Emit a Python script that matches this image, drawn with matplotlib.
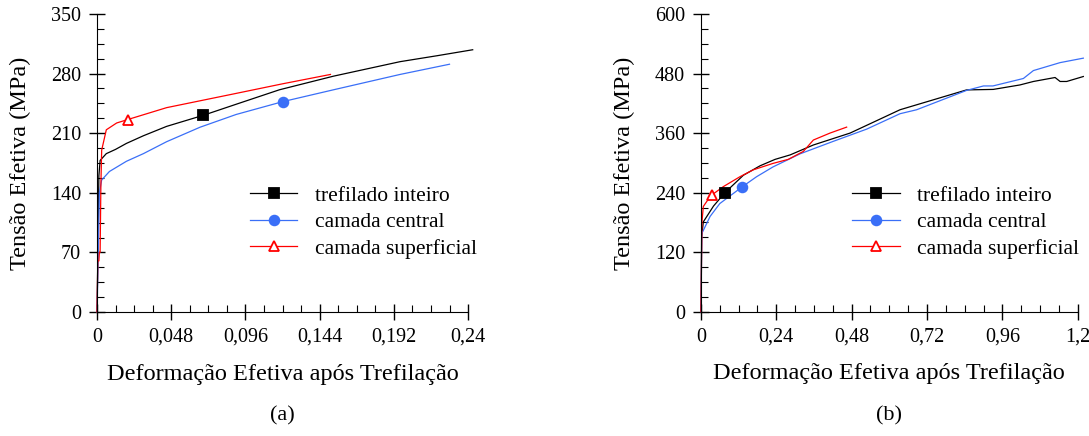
import matplotlib
matplotlib.use('Agg')
import matplotlib.pyplot as plt
from matplotlib.lines import Line2D
from matplotlib.ticker import MultipleLocator, AutoMinorLocator, FuncFormatter

plt.rcParams['font.family'] = 'Liberation Serif'

# (a) curvas ate deformacao 0,24
a_inteiro_x = [0, 0.0008, 0.0012, 0.002, 0.006, 0.012, 0.019, 0.03, 0.045, 0.0687, 0.09, 0.118, 0.153, 0.196, 0.22, 0.243]
a_inteiro_y = [0, 100, 160, 178, 186, 191, 198, 207, 218, 231, 244, 261, 277, 294, 301, 308]
a_central_x = [0, 0.0008, 0.0015, 0.003, 0.008, 0.019, 0.03, 0.045, 0.0666, 0.09, 0.12, 0.153, 0.196, 0.228]
a_central_y = [0, 70, 140, 155, 165, 177, 186, 200, 217, 232, 247, 261, 279, 291]
a_super_x = [0, 0.0005, 0.0012, 0.0015, 0.002, 0.0025, 0.003, 0.006, 0.0127, 0.0198, 0.045, 0.088, 0.12, 0.151]
a_super_y = [0, 60, 60, 70, 70, 150, 190, 214, 222, 226, 240, 256, 268, 279]
a_marks = [(0.0687, 231), (0.12, 247), (0.0198, 226)]

# (b) curvas ate deformacao 1,2
b_inteiro_x = [0, 0.002, 0.0074, 0.04, 0.0765, 0.135, 0.188, 0.236, 0.284, 0.358, 0.475, 0.634, 0.74, 0.846, 0.931, 1.016, 1.059, 1.128, 1.144, 1.165, 1.218]
b_inteiro_y = [0, 150, 181, 213, 240, 275, 294, 307, 316, 336, 360, 407, 427, 447, 448, 457, 464, 472, 464, 464, 474]
b_central_x = [0, 0.002, 0.003, 0.029, 0.06, 0.132, 0.177, 0.23, 0.315, 0.42, 0.528, 0.634, 0.687, 0.74, 0.846, 0.9, 0.93, 1.027, 1.059, 1.144, 1.218]
b_central_y = [0, 120, 158, 192, 218, 252, 272, 292, 318, 343, 368, 399, 407, 420, 446, 455, 455, 470, 486, 502, 511]
b_super_x = [0, 0.002, 0.003, 0.0074, 0.029, 0.034, 0.071, 0.124, 0.167, 0.23, 0.278, 0.326, 0.358, 0.411, 0.464]
b_super_y = [0, 120, 180, 212, 232, 235, 252, 272, 286, 299, 307, 323, 346, 360, 372]
b_marks = [(0.0765, 240), (0.132, 252), (0.034, 235)]

names = ['trefilado inteiro', 'camada central', 'camada superficial']
colors = ['black', '#3a6ff7', 'red']
markers = ['s', 'o', '^']


def virgula(v, pos):
    s = ('%.3f' % v).rstrip('0').rstrip('.')
    return s.replace('.', ',')


def painel(ax, curvas, marks, xmax, xstep, ymax, ystep, letra, leg_x):
    for (x, y), (mx, my), c, m in zip(curvas, marks, colors, markers):
        ax.plot(x, y, color=c, lw=0.9, clip_on=False)
        face = 'white' if m == '^' else c
        ax.plot([mx], [my], m, color=c, mfc=face, ms=7, mew=1.3, clip_on=False, zorder=5)
    ax.set_xlim(0, xmax)
    ax.set_ylim(0, ymax)
    ax.xaxis.set_major_locator(MultipleLocator(xstep))
    ax.yaxis.set_major_locator(MultipleLocator(ystep))
    ax.xaxis.set_minor_locator(AutoMinorLocator(4))
    ax.yaxis.set_minor_locator(AutoMinorLocator(4))
    ax.xaxis.set_major_formatter(FuncFormatter(virgula))
    for s in ['top', 'right']:
        ax.spines[s].set_visible(False)
    ax.tick_params(which='major', direction='inout', length=11, width=1, labelsize=14.5, pad=6)
    ax.tick_params(which='minor', direction='in', length=5, width=0.8)
    ax.set_ylabel('Tensão Efetiva (MPa)', fontsize=17.5, labelpad=14)
    ax.set_xlabel('Deformação Efetiva após Trefilação', fontsize=17.5, labelpad=12)
    handles = [Line2D([], [], color=c, lw=0.9, marker=m, ms=7, mew=1.3,
                      mfc=('white' if m == '^' else c)) for c, m in zip(colors, markers)]
    ax.legend(handles, names, loc='lower right', bbox_to_anchor=(leg_x, 0.113),
              frameon=False, fontsize=15.5, handlelength=2.2, handletextpad=0.8,
              labelspacing=0.3)
    ax.text(0.5, -0.35, letra, transform=ax.transAxes, ha='center', va='center', fontsize=16)


fig = plt.figure(figsize=(10.89, 4.36), dpi=100)
ax1 = fig.add_axes([0.0891, 0.2844, 0.3407, 0.6835])
ax2 = fig.add_axes([0.6437, 0.2851, 0.3459, 0.6828])

painel(ax1, [(a_inteiro_x, a_inteiro_y), (a_central_x, a_central_y), (a_super_x, a_super_y)],
       a_marks, 0.24, 0.048, 350, 70, '(a)', 1.075)
painel(ax2, [(b_inteiro_x, b_inteiro_y), (b_central_x, b_central_y), (b_super_x, b_super_y)],
       b_marks, 1.2, 0.24, 600, 120, '(b)', 1.055)

fig.savefig('out.png', dpi=100)
